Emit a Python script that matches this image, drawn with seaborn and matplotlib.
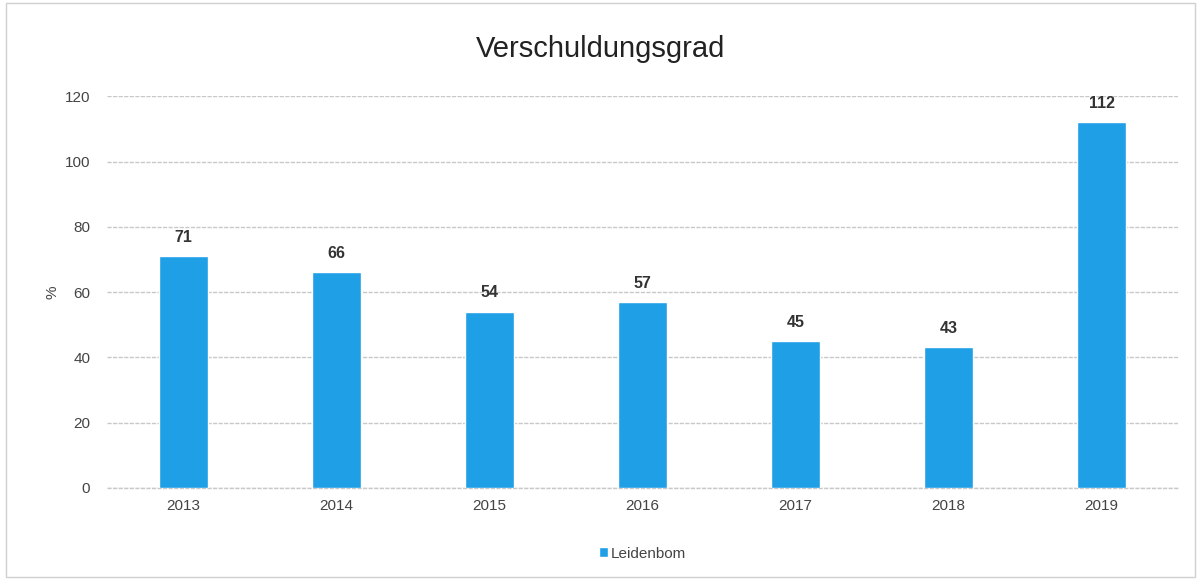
import matplotlib
matplotlib.use("Agg")
import matplotlib.pyplot as plt
import seaborn as sns
import pandas as pd

years = ["2013", "2014", "2015", "2016", "2017", "2018", "2019"]
debt_ratio = [71, 66, 54, 57, 45, 43, 112]
series_name = "Leidenbom"

df = pd.DataFrame({"year": years, "value": debt_ratio, "series": series_name})

sns.set_style("white")
plt.rcParams["font.family"] = ["Liberation Sans", "DejaVu Sans"]

fig = plt.figure(figsize=(12.01, 5.8), dpi=100)
ax = fig.add_axes([0.089, 0.159, 0.892, 0.675])

sns.barplot(data=df, x="year", y="value", hue="series", palette=["#1E9FE6"],
            width=0.32, ax=ax, saturation=1, legend=True)

for c in ax.containers:
    ax.bar_label(c, fmt="%d", padding=8, fontsize=11.5, fontweight="bold", color="#333333")

ax.set_ylim(0, 120)
ax.set_xlim(-0.5, 6.5)
ax.set_yticks(range(0, 121, 20))
ax.yaxis.grid(True, color="#c8c8c8", linestyle=(0, (3, 1)), linewidth=1)
ax.axhline(0, color="#c8c8c8", linestyle=(0, (3, 1)), linewidth=1, clip_on=False, zorder=0)
ax.set_axisbelow(True)
sns.despine(ax=ax, left=True, bottom=True)
ax.tick_params(axis="both", length=0, labelsize=11, labelcolor="#444444")
ax.tick_params(axis="y", pad=12)
ax.tick_params(axis="x", pad=8)
ax.set_xlabel("")
ax.set_ylabel("%", fontsize=11, color="#444444", labelpad=4)

fig.suptitle("Verschuldungsgrad", fontsize=21, color="#222222", y=0.94)

ax.legend(loc="upper center", bbox_to_anchor=(0.5, -0.115), frameon=False,
          fontsize=11, handlelength=0.6, handleheight=0.6, handletextpad=0.2,
          labelcolor="#444444")

fig.patches.append(plt.Rectangle((0.005, 0.005), 0.99, 0.99, transform=fig.transFigure,
                                 fill=False, edgecolor="#d0d0d0", linewidth=1))

fig.savefig("out.png", dpi=100)
